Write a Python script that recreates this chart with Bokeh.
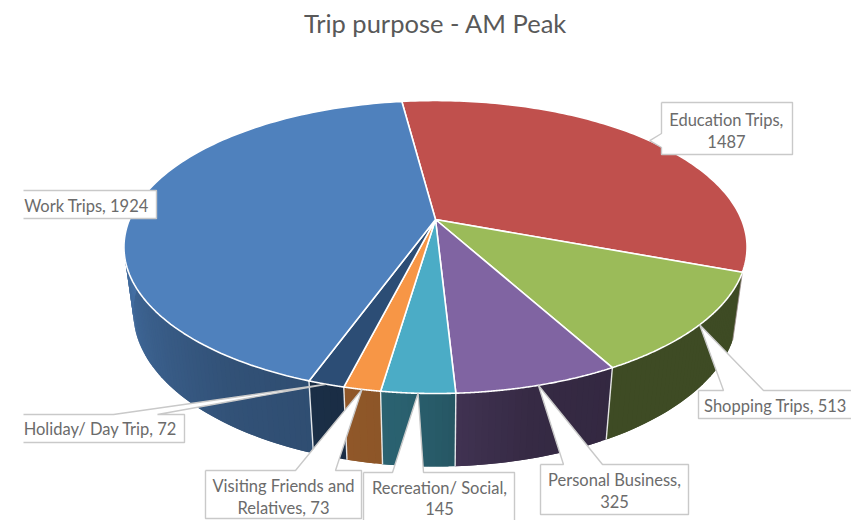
import numpy as np
from bokeh.plotting import figure
from bokeh.models import Range1d
from bokeh.core.properties import value
from bokeh.embed import file_html
from bokeh.resources import INLINE

TITLE = "Trip purpose - AM Peak"
categories = ["Education Trips", "Shopping Trips", "Personal Business", "Recreation/ Social",
              "Visiting Friends and\nRelatives", "Holiday/ Day Trip", "Work Trips"]
values = [1487, 513, 325, 145, 73, 72, 1924]
separators = [",\n", ", ", ",\n", ",\n", ", ", ", ", ", "]
top_colors = ["#c0504d", "#9bbb59", "#8064a2", "#4bacc6", "#f79646", "#2c4d75", "#4f81bd"]

W, H = 851, 520
XC, YC, A, B, K = 435.0, 219.0, 306.0, 141.3, 0.188
M, D = 0.03, 66.7
START = -7.5


def top(theta):
    t = np.radians(theta)
    u, v = np.sin(t), np.cos(t)
    d = 1 + K * v
    return XC + A * u / d, YC - B * v / d


def low(theta):
    t = np.radians(theta)
    u, v = np.sin(t), np.cos(t)
    d = 1 + K * v + M
    return XC + A * u / d, YC + (D - B * v) / d


def rgb(c):
    return np.array([int(c[i:i + 2], 16) for i in (1, 3, 5)], float)


def to_hex(a):
    return "#%02x%02x%02x" % tuple(int(round(min(255, max(0, x)))) for x in a)


shade_t = [90, 150, 165, 185, 200, 215, 270]
shade_f = [0.40, 0.40, 0.42, 0.56, 0.60, 0.63, 0.88]

vals = np.array(values, float)
edges = START + np.concatenate([[0], np.cumsum(vals)]) / vals.sum() * 360
mids = (edges[:-1] + edges[1:]) / 2

p = figure(width=W, height=H, x_range=Range1d(0, W), y_range=Range1d(H, 0),
           output_backend="svg", toolbar_location=None, min_border=0)
p.axis.visible = False
p.xgrid.visible = False
p.ygrid.visible = False
p.outline_line_color = None
p.background_fill_color = "white"
p.border_fill_color = "white"

# Side wall: overlapping thin strips with a horizontal shade ramp (Education is hidden)
sx, sy, sc = [], [], []
dx, dy = [], []
for i in range(1, len(vals)):
    a = edges[i]
    b = min(edges[i + 1], 275.0)
    n = max(2, int((b - a) / 1.0))
    th = np.linspace(a, b, n + 1)
    for j in range(n):
        t0, t1 = th[j], th[j + 1]
        t2 = th[min(j + 2, n)]  # overlap with the following strip hides seams
        x0, y0 = top(t0); x1, y1 = top(t2)
        x2, y2 = low(t2); x3, y3 = low(t0)
        sx.append([x0, x1, x2, x3]); sy.append([y0, y1, y2, y3])
        sc.append(to_hex(rgb(top_colors[i]) * np.interp((t0 + t1) / 2, shade_t, shade_f)))
    if edges[i + 1] < 275:
        x0, y0 = top(edges[i + 1]); x1, y1 = low(edges[i + 1])
        dx.append([x0, x1]); dy.append([y0, y1])
p.patches(sx, sy, fill_color=sc, line_color=None)
p.multi_line(dx, dy, line_color="white", line_width=1.4, line_alpha=0.85)
ex0, ey0 = top(edges[1]); ex1, ey1 = low(edges[1])
p.line([ex0, ex1], [ey0, ey1], line_color="#a09090", line_width=1.0, line_alpha=0.8)

# Top face
tx, ty = [], []
for i in range(len(vals)):
    th = np.linspace(edges[i], edges[i + 1], 120)
    x, y = top(th)
    tx.append([XC] + list(x)); ty.append([YC] + list(y))
p.patches(tx, ty, fill_color=top_colors, line_color="white", line_width=1.6)

# Callouts: (box left, top, right, bottom), pointer base, text centre
BORDER = "#c9c9c9"
callouts = {
    0: dict(box=(661, 102, 792, 154), base=("left", 133, 147), text=(726, 130.5), lim=None),
    1: dict(box=(698, 390, 860, 418), base=("top", 723, 763), text=(775, 405.5), lim=None),
    2: dict(box=(540, 464, 688, 514), base=("top", 563, 602), text=(614, 490.5), lim=None),
    3: dict(box=(363, 472, 514, 530), base=("top", 392, 423), text=(439, 498), lim=None),
    4: dict(box=(205, 470, 361, 518), base=("top", 295, 335), text=(283, 496.5), lim=None),
    5: dict(box=(23, 414, 184, 442), base=("top", 113, 157), text=(100, 428.5), lim="left"),
    6: dict(box=(23, 190, 156, 218), base=None, text=(86, 205.5), lim="left"),
}
lab_x, lab_y, lab_t = [], [], []
for i, c in callouts.items():
    l, t, r, b = c["box"]
    ax, ay = top(mids[i])
    if c["base"] is None:
        path = [(l, t), (r, t), (r, b), (l, b)]
    elif c["base"][0] == "top":
        _, b0, b1 = c["base"]
        path = [(l, t), (b0, t), (ax, ay), (b1, t), (r, t), (r, b), (l, b)]
    else:
        _, b0, b1 = c["base"]
        path = [(l, t), (r, t), (r, b), (l, b), (l, b1), (ax, ay), (l, b0)]
    xs = [q[0] for q in path]
    ys = [q[1] for q in path]
    p.patch(xs, ys, fill_color="white", line_color=None)
    if c["lim"] != "left":
        xs = xs + [xs[0]]
        ys = ys + [ys[0]]
    p.line(xs, ys, line_color=BORDER, line_width=1.4)
    lab_x.append(c["text"][0]); lab_y.append(c["text"][1])
    lab_t.append(f"{categories[i]}{separators[i]}{values[i]}")

p.text(lab_x, lab_y, text=lab_t, text_font=value("Lato"), text_font_size="16.5px",
       text_color="#6b6b6b", text_align="center", text_baseline="middle", text_line_height=1.07)
p.text([435], [22], text=[TITLE], text_font=value("Lato"), text_font_size="25.5px",
       text_color="#595959", text_align="center", text_baseline="middle")

open("out.html", "w").write(file_html(p, INLINE))
